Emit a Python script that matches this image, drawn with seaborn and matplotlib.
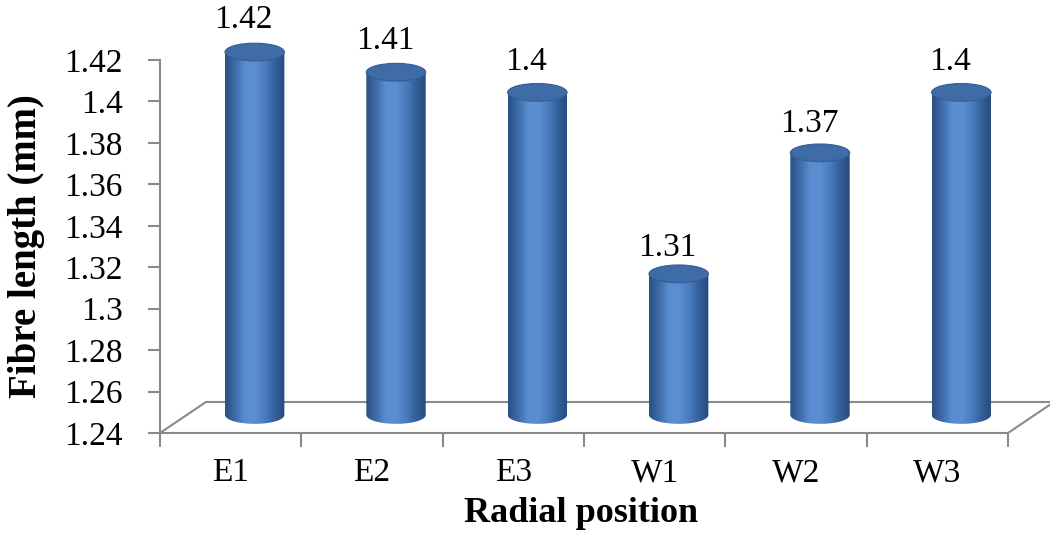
import matplotlib
matplotlib.use("Agg")
import matplotlib.pyplot as plt
import seaborn as sns
import numpy as np
from matplotlib.transforms import Affine2D
from matplotlib.patches import Ellipse, PathPatch
from matplotlib.path import Path
from matplotlib.colors import LinearSegmentedColormap
from matplotlib.lines import Line2D

# data
positions = ["E1", "E2", "E3", "W1", "W2", "W3"]
fibre_length = [1.42, 1.41, 1.40, 1.31, 1.37, 1.40]
y_ticks = [1.24, 1.26, 1.28, 1.30, 1.32, 1.34, 1.36, 1.38, 1.40, 1.42]
y_tick_labels = ["1.24", "1.26", "1.28", "1.3", "1.32", "1.34", "1.36", "1.38", "1.4", "1.42"]

sns.set_style("white")
plt.rcParams["font.family"] = ["Liberation Serif", "DejaVu Serif"]

axis_grey = "#8a8a8a"

fig = plt.figure(figsize=(10.5, 5.36), dpi=100)
ax = fig.add_axes([0.1524, 0.1922, 0.8076, 0.6959])

sns.barplot(x=positions, y=fibre_length, width=0.42, color="#4F81BD", ax=ax)

base = y_ticks[0]
ax.set_ylim(base, y_ticks[-1])
ax.set_xlim(-0.5, len(positions) - 0.5)

# fake 3D: bars stand half way back on the floor, a little foreshortened
yb = ax.transData.transform((0, base))[1]
mid = ax.transData + Affine2D().translate(0, -yb).scale(1, 0.973).translate(24, yb + 18)
ell_h = 0.0088  # cylinder cap height in data units

body_cmap = LinearSegmentedColormap.from_list(
    "cyl",
    ["#2a5083", "#3d6ba8", "#5a8dd0", "#5b8fd3", "#4a7cbe", "#33609a", "#274a7b"],
)
grad = body_cmap(np.linspace(0, 1, 256))[None, :, :]

for bar in ax.patches[:]:
    x0 = bar.get_x()
    w = bar.get_width()
    top = bar.get_height()
    cx = x0 + w / 2
    bar.set_visible(False)

    t = np.linspace(np.pi, 2 * np.pi, 40)
    bx = cx + w / 2 * np.cos(t)
    by = base + ell_h / 2 * np.sin(t)
    verts = list(zip(bx, by)) + [(x0 + w, top), (x0, top), (bx[0], by[0])]
    codes = [Path.MOVETO] + [Path.LINETO] * (len(verts) - 2) + [Path.CLOSEPOLY]
    body = PathPatch(Path(verts, codes), transform=mid, facecolor="none",
                     edgecolor="none", clip_on=False)
    ax.add_patch(body)

    im = ax.imshow(grad, extent=(x0, x0 + w, base - ell_h, top), aspect="auto",
                   transform=mid, zorder=3, interpolation="bilinear")
    im.set_clip_path(body)
    im.set_clip_box(fig.bbox)

    cap = Ellipse((cx, top), w, ell_h, transform=mid, facecolor="#3f6ca6",
                  edgecolor="#335e95", lw=0.8, zorder=4, clip_on=False)
    ax.add_patch(cap)

ax.set_ylim(base, y_ticks[-1])
ax.set_xlim(-0.5, len(positions) - 0.5)

# floor of the 3D box
ax_w_px = 0.8076 * 1050
ax_h_px = 0.6959 * 536
dx, dy = 46 / ax_w_px, 31 / ax_h_px
floor = Line2D([0, dx, 1 + dx, 1], [0, dy, dy, 0], transform=ax.transAxes,
               color=axis_grey, lw=1.5, clip_on=False, zorder=1)
ax.add_line(floor)

# value labels
for i, v in enumerate(fibre_length):
    ax.annotate(f"{v:g}", (i, v), xytext=(13, 40), textcoords="offset pixels",
                ha="center", va="center", fontsize=24, color="black",
                annotation_clip=False)

sns.despine(ax=ax, top=True, right=True)
for side in ["left", "bottom"]:
    ax.spines[side].set_color(axis_grey)
    ax.spines[side].set_linewidth(1.5)

ax.set_yticks(y_ticks, labels=y_tick_labels)
ax.tick_params(axis="y", left=True, direction="out", length=9, width=1.5,
               color=axis_grey, pad=18, labelsize=24, labelcolor="black")
ax.set_xticks(np.arange(len(positions) + 1) - 0.5, minor=True)
ax.tick_params(axis="x", which="minor", bottom=True, direction="out", length=10,
               width=1.5, color=axis_grey)
ax.tick_params(axis="x", which="major", bottom=True, length=0, pad=18,
               labelsize=24, labelcolor="black")

ax.set_xlabel("Radial position", fontsize=26, fontweight="bold", color="black")
ax.set_ylabel("Fibre length (mm)", fontsize=28, fontweight="bold", color="black")
ax.xaxis.set_label_coords(0.497, -0.172)
ax.yaxis.set_label_coords(-0.136, 0.5)

fig.savefig("out.png", dpi=100)
